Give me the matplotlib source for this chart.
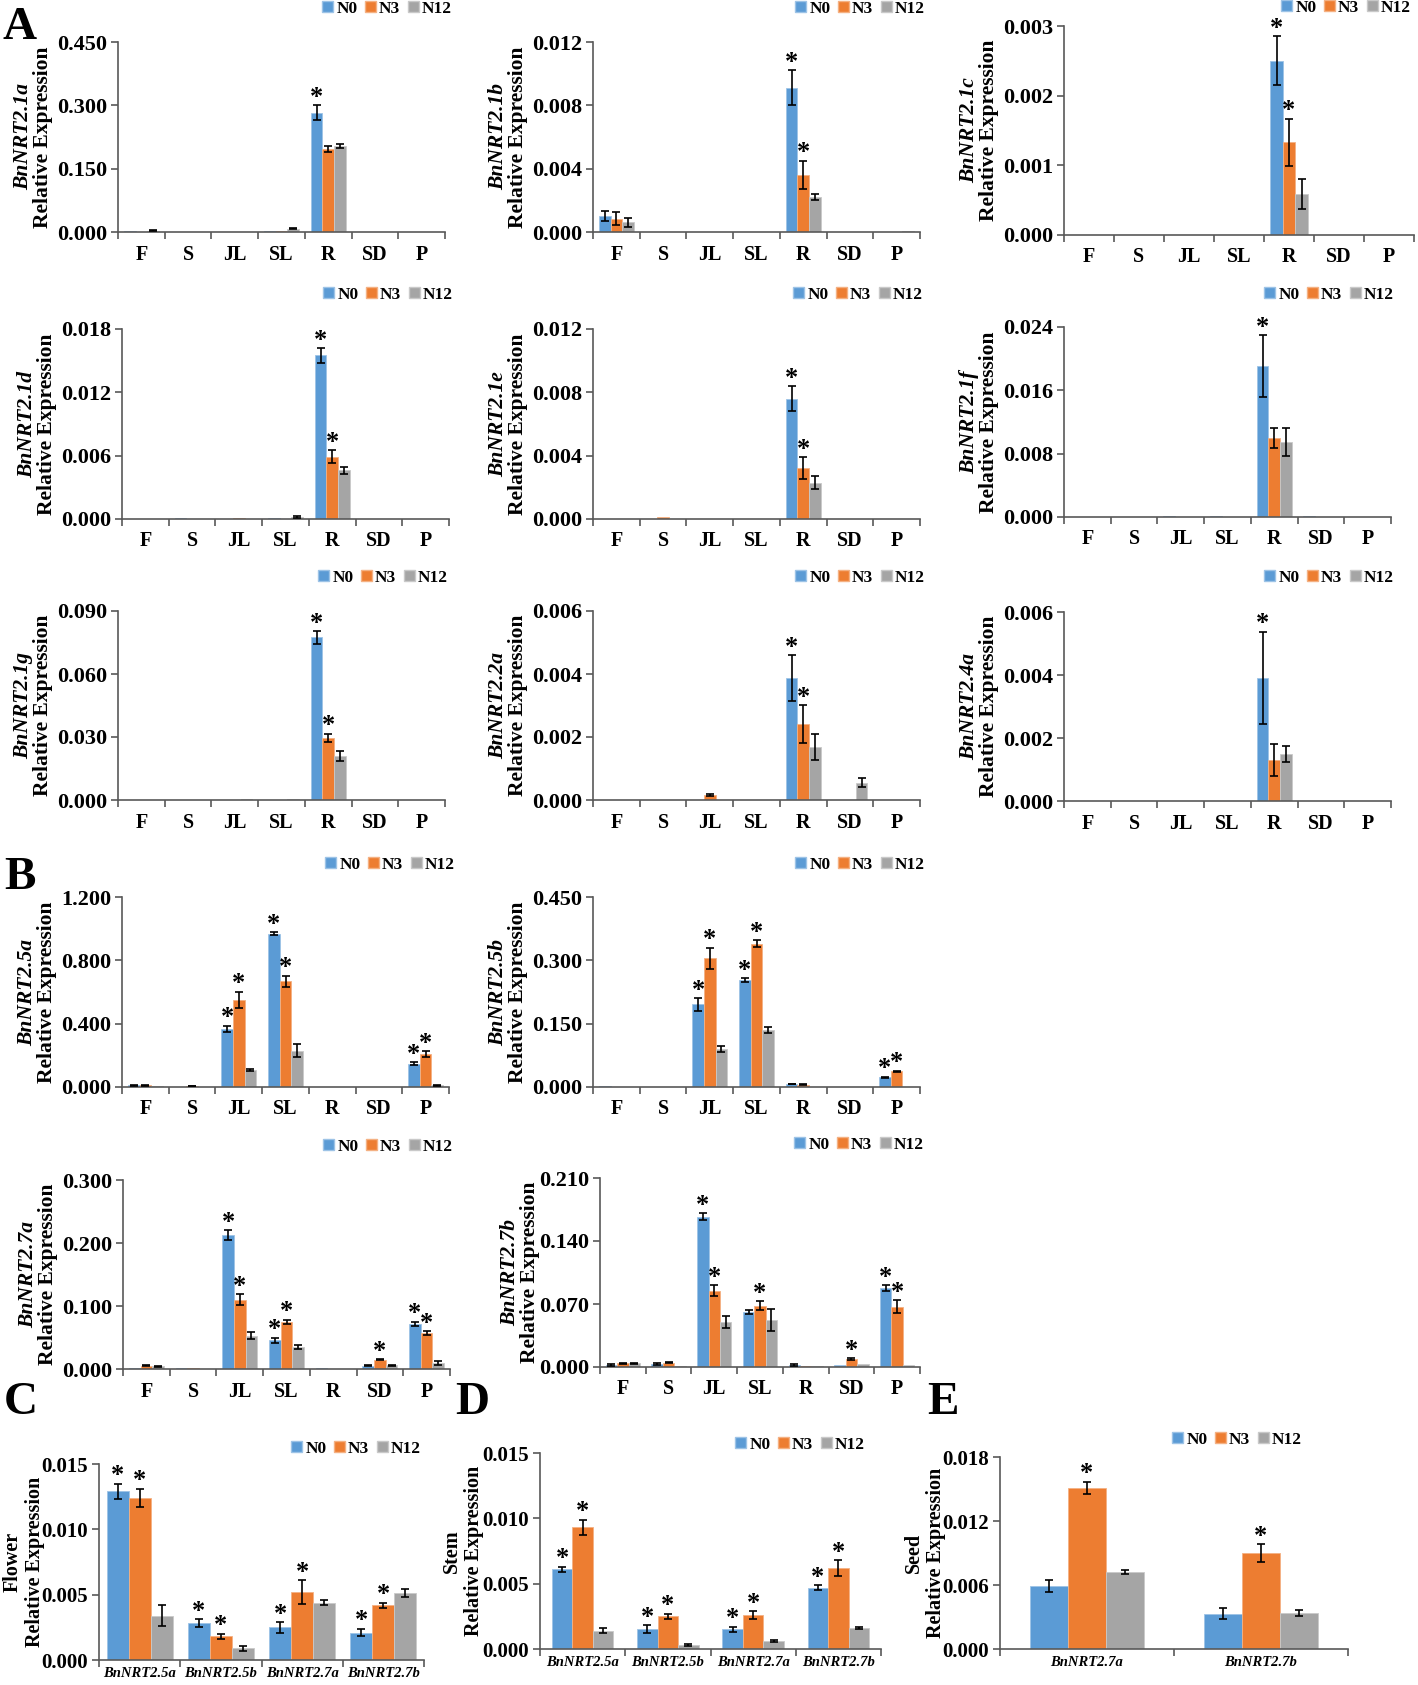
import matplotlib.pyplot as plt
from matplotlib.patches import Patch
import numpy as np

plt.rcParams['font.family'] = ['Liberation Serif', 'DejaVu Serif']
plt.rcParams['font.weight'] = 'bold'

W, H = 1418, 1685
fig = plt.figure(figsize=(W / 100, H / 100), dpi=100)

tissues = ['F', 'S', 'JL', 'SL', 'R', 'SD', 'P']
groups = ['N0', 'N3', 'N12']
colors = ['#5B9BD5', '#ED7D31', '#A5A5A5']
edges = ['#9DC3E6', '#F4B183', '#C9C9C9']

# --- data (rows: N0, N3, N12; columns: tissues) ---
nrt21a_mean = [[0.002, 0.001, 0.000, 0.002, 0.283, 0, 0],
               [0.001, 0.001, 0.001, 0.002, 0.197, 0, 0],
               [0.003, 0.001, 0.001, 0.008, 0.204, 0, 0]]
nrt21a_err = [[0, 0, 0, 0, 0.017, 0, 0],
              [0, 0, 0, 0, 0.007, 0, 0],
              [0.001, 0, 0, 0.002, 0.005, 0, 0]]
nrt21a_star = [(4, 0)]

nrt21b_mean = [[0.0010, 0, 0, 0, 0.0091, 0, 0],
               [0.00085, 0, 0, 0, 0.0036, 0, 0],
               [0.0006, 0, 0, 0, 0.0022, 0, 0.00005]]
nrt21b_err = [[0.0003, 0, 0, 0, 0.0011, 0, 0],
              [0.0004, 0, 0, 0, 0.0009, 0, 0],
              [0.0003, 0, 0, 0, 0.0002, 0, 0]]
nrt21b_star = [(4, 0), (4, 1)]

nrt21c_mean = [[0, 0, 0, 0, 0.0025, 0, 0],
               [0, 0, 0, 0, 0.00133, 0, 0],
               [0, 0, 0, 0, 0.00059, 0, 0]]
nrt21c_err = [[0, 0, 0, 0, 0.00035, 0, 0],
              [0, 0, 0, 0, 0.00034, 0, 0],
              [0, 0, 0, 0, 0.00021, 0, 0]]
nrt21c_star = [(4, 0), (4, 1)]

nrt21d_mean = [[0, 0.0001, 0, 0.00005, 0.0155, 0, 0],
               [0, 0, 0.0001, 0, 0.0059, 0, 0],
               [0, 0, 0, 0.0002, 0.0046, 0, 0]]
nrt21d_err = [[0, 0, 0, 0, 0.0007, 0, 0],
              [0, 0, 0, 0, 0.0006, 0, 0],
              [0, 0, 0, 0.0001, 0.0003, 0, 0]]
nrt21d_star = [(4, 0), (4, 1)]

nrt21e_mean = [[0, 0, 0, 0, 0.0076, 0, 0],
               [0, 0.0001, 0, 0, 0.0032, 0, 0],
               [0, 0, 0, 0, 0.0023, 0, 0]]
nrt21e_err = [[0, 0, 0, 0, 0.0008, 0, 0],
              [0, 0, 0, 0, 0.0007, 0, 0],
              [0, 0, 0, 0, 0.0004, 0, 0]]
nrt21e_star = [(4, 0), (4, 1)]

nrt21f_mean = [[0, 0, 0.0001, 0.0001, 0.0191, 0.0001, 0],
               [0, 0, 0, 0, 0.0100, 0, 0],
               [0, 0, 0, 0, 0.0095, 0, 0]]
nrt21f_err = [[0, 0, 0, 0, 0.0039, 0, 0],
              [0, 0, 0, 0, 0.0013, 0, 0],
              [0, 0, 0, 0, 0.0018, 0, 0]]
nrt21f_star = [(4, 0)]

nrt21g_mean = [[0, 0, 0, 0, 0.0775, 0, 0],
               [0, 0, 0, 0, 0.0295, 0, 0],
               [0, 0, 0.0003, 0.0003, 0.021, 0, 0]]
nrt21g_err = [[0, 0, 0, 0, 0.003, 0, 0],
              [0, 0, 0, 0, 0.002, 0, 0],
              [0, 0, 0, 0, 0.0022, 0, 0]]
nrt21g_star = [(4, 0), (4, 1)]

nrt22a_mean = [[0, 0, 0, 0, 0.00387, 0, 0],
               [0, 0, 0.00015, 0, 0.0024, 0, 0],
               [0, 0, 0, 0, 0.00168, 0.00055, 0]]
nrt22a_err = [[0, 0, 0, 0, 0.00072, 0, 0],
              [0, 0, 0.00003, 0, 0.0006, 0, 0],
              [0, 0, 0, 0, 0.0004, 0.00015, 0]]
nrt22a_star = [(4, 0), (4, 1)]

nrt24a_mean = [[0, 0, 0, 0, 0.0039, 0, 0],
               [0, 0, 0, 0, 0.0013, 0, 0],
               [0, 0, 0, 0, 0.0015, 0, 0]]
nrt24a_err = [[0, 0, 0, 0, 0.00147, 0, 0],
              [0, 0, 0, 0, 0.0005, 0, 0],
              [0, 0, 0, 0, 0.00025, 0, 0]]
nrt24a_star = [(4, 0)]

nrt25a_mean = [[0.010, 0.003, 0.366, 0.968, 0.003, 0, 0.147],
               [0.010, 0.006, 0.552, 0.667, 0, 0, 0.210],
               [0.004, 0, 0.107, 0.229, 0, 0, 0.012]]
nrt25a_err = [[0.003, 0, 0.020, 0.010, 0, 0, 0.010],
              [0.003, 0.002, 0.050, 0.035, 0, 0, 0.018],
              [0, 0, 0.007, 0.040, 0, 0, 0.003]]
nrt25a_star = [(2, 0), (2, 1), (3, 0), (3, 1), (6, 0), (6, 1)]

nrt25b_mean = [[0.002, 0.001, 0.196, 0.253, 0.007, 0, 0.023],
               [0.001, 0.001, 0.305, 0.339, 0.005, 0, 0.037],
               [0, 0, 0.090, 0.135, 0.001, 0, 0.001]]
nrt25b_err = [[0, 0, 0.015, 0.005, 0.001, 0, 0.001],
              [0, 0, 0.025, 0.008, 0.001, 0, 0.002],
              [0, 0, 0.007, 0.007, 0, 0, 0]]
nrt25b_star = [(2, 0), (2, 1), (3, 0), (3, 1), (6, 0), (6, 1)]

nrt27a_mean = [[0.002, 0.001, 0.212, 0.046, 0.001, 0.005, 0.072],
               [0.005, 0.002, 0.110, 0.075, 0, 0.015, 0.057],
               [0.004, 0, 0.053, 0.035, 0, 0.006, 0.010]]
nrt27a_err = [[0, 0, 0.008, 0.004, 0, 0.001, 0.003],
              [0.001, 0, 0.009, 0.003, 0, 0.001, 0.003],
              [0.001, 0, 0.005, 0.003, 0, 0.001, 0.003]]
nrt27a_star = [(2, 0), (2, 1), (3, 0), (3, 1), (5, 1), (6, 0), (6, 1)]

nrt27b_mean = [[0.002, 0.003, 0.167, 0.061, 0.002, 0.002, 0.088],
               [0.004, 0.005, 0.085, 0.068, 0.001, 0.009, 0.067],
               [0.004, 0.001, 0.050, 0.052, 0.001, 0.003, 0.002]]
nrt27b_err = [[0.001, 0.001, 0.004, 0.002, 0.001, 0, 0.003],
              [0.001, 0.001, 0.006, 0.005, 0, 0.001, 0.007],
              [0.001, 0, 0.007, 0.012, 0, 0, 0]]
nrt27b_star = [(2, 0), (2, 1), (3, 1), (5, 1), (6, 0), (6, 1)]

genes4 = ['BnNRT2.5a', 'BnNRT2.5b', 'BnNRT2.7a', 'BnNRT2.7b']
genes2 = ['BnNRT2.7a', 'BnNRT2.7b']

flower_mean = [[0.0129, 0.0028, 0.0025, 0.0021],
               [0.0124, 0.0018, 0.0052, 0.0042],
               [0.0034, 0.0009, 0.0044, 0.0051]]
flower_err = [[0.0006, 0.0003, 0.0004, 0.0003],
              [0.0007, 0.0002, 0.0009, 0.0002],
              [0.0008, 0.0002, 0.0002, 0.0003]]
flower_star = [(0, 0), (0, 1), (1, 0), (1, 1), (2, 0), (2, 1), (3, 0), (3, 1)]

stem_mean = [[0.0061, 0.0015, 0.0015, 0.0047],
             [0.0093, 0.0025, 0.0026, 0.0062],
             [0.0014, 0.0003, 0.0006, 0.0016]]
stem_err = [[0.0002, 0.0003, 0.0002, 0.0002],
            [0.0006, 0.0002, 0.0003, 0.0006],
            [0.0002, 0.0001, 0.0001, 0.0001]]
stem_star = [(0, 0), (0, 1), (1, 0), (1, 1), (2, 0), (2, 1), (3, 0), (3, 1)]

seed_mean = [[0.0059, 0.0033],
             [0.0151, 0.0090],
             [0.0072, 0.0034]]
seed_err = [[0.0006, 0.0005],
            [0.0006, 0.0008],
            [0.0002, 0.0003]]
seed_star = [(0, 1), (1, 1)]


def draw_panel(rect, cats, mean, err, stars, ymax, step, name, leg_xy,
               width=0.25, lab_off=(-95, -75), name_italic=True, lab_fs=15.5,
               tick_fs=16, cat_fs=14.5, cat_italic=False, cat_pad=9):
    x0, y0, x1, y1 = rect
    ax = fig.add_axes([x0 / W, 1 - y1 / H, (x1 - x0) / W, (y1 - y0) / H])
    n = len(cats)
    x = np.arange(n)
    for gi in range(3):
        xs = x + (gi - 1) * width
        ax.bar(xs, mean[gi], width, color=colors[gi], edgecolor=edges[gi],
               linewidth=0.6, label=groups[gi], zorder=2)
        e = np.array(err[gi])
        m = e > 0
        if m.any():
            ax.errorbar(xs[m], np.array(mean[gi])[m], yerr=e[m], fmt='none',
                        ecolor='black', elinewidth=1.2, capsize=2.6,
                        capthick=1.2, zorder=3)
    for ci, gi in stars:
        top = mean[gi][ci] + err[gi][ci]
        ax.annotate('*', (ci + (gi - 1) * width, top), xytext=(0, 1),
                    textcoords='offset points', ha='center', va='baseline',
                    fontsize=19, fontweight='bold')
    ax.set_xlim(-0.5, n - 0.5)
    ax.set_ylim(0, ymax)
    yt = np.arange(0, ymax + step / 2, step)
    ax.set_yticks(yt)
    ax.set_yticklabels([f'{v:.3f}' for v in yt], fontsize=tick_fs,
                       fontweight='bold')
    ax.set_xticks(x)
    ax.set_xticklabels(cats, fontsize=cat_fs, fontweight='bold',
                       fontstyle='italic' if cat_italic else 'normal')
    ax.set_xticks(np.arange(-0.5, n, 1), minor=True)
    ax.tick_params(axis='x', which='major', length=0, pad=cat_pad)
    ax.tick_params(axis='x', which='minor', length=5, width=1.2,
                   color='#595959', direction='out')
    ax.tick_params(axis='y', length=5, width=1.2, color='#595959',
                   direction='out', pad=3)
    for s in ['top', 'right']:
        ax.spines[s].set_visible(False)
    for s in ['left', 'bottom']:
        ax.spines[s].set_color('#595959')
        ax.spines[s].set_linewidth(1.2)
    ax.patch.set_visible(False)

    yc = 1 - (y0 + y1) / 2 / H
    fig.text((x0 + lab_off[0]) / W, yc, name, rotation=90, ha='center',
             va='center', fontsize=lab_fs, fontweight='bold',
             fontstyle='italic' if name_italic else 'normal')
    fig.text((x0 + lab_off[1]) / W, yc, 'Relative Expression', rotation=90,
             ha='center', va='center', fontsize=lab_fs, fontweight='bold')

    handles = [Patch(facecolor=colors[i], edgecolor=edges[i]) for i in range(3)]
    ax.legend(handles, groups, loc='center right', ncol=3, frameon=False,
              bbox_to_anchor=(leg_xy[0] / W, 1 - leg_xy[1] / H),
              bbox_transform=fig.transFigure, borderpad=0, borderaxespad=0,
              handlelength=0.6, handleheight=0.6, handletextpad=0.2,
              columnspacing=0.45, prop={'size': 12.5, 'weight': 'bold'})
    return ax


# panel A
draw_panel((118, 42, 445, 232), tissues, nrt21a_mean, nrt21a_err, nrt21a_star,
           0.45, 0.15, 'BnNRT2.1a', (452, 9))
draw_panel((593, 42, 920, 232), tissues, nrt21b_mean, nrt21b_err, nrt21b_star,
           0.012, 0.004, 'BnNRT2.1b', (925, 9))
draw_panel((1064, 26, 1414, 235), tissues, nrt21c_mean, nrt21c_err, nrt21c_star,
           0.003, 0.001, 'BnNRT2.1c', (1411, 8))
draw_panel((122, 329, 449, 519), tissues, nrt21d_mean, nrt21d_err, nrt21d_star,
           0.018, 0.006, 'BnNRT2.1d', (453, 295))
draw_panel((593, 329, 920, 519), tissues, nrt21e_mean, nrt21e_err, nrt21e_star,
           0.012, 0.004, 'BnNRT2.1e', (923, 295))
draw_panel((1064, 327, 1391, 517), tissues, nrt21f_mean, nrt21f_err, nrt21f_star,
           0.024, 0.008, 'BnNRT2.1f', (1394, 295))
draw_panel((118, 611, 445, 800), tissues, nrt21g_mean, nrt21g_err, nrt21g_star,
           0.09, 0.03, 'BnNRT2.1g', (448, 578))
draw_panel((593, 611, 920, 800), tissues, nrt22a_mean, nrt22a_err, nrt22a_star,
           0.006, 0.002, 'BnNRT2.2a', (925, 578))
draw_panel((1064, 612, 1391, 801), tissues, nrt24a_mean, nrt24a_err, nrt24a_star,
           0.006, 0.002, 'BnNRT2.4a', (1394, 578))

# panel B
draw_panel((122, 897, 449, 1087), tissues, nrt25a_mean, nrt25a_err, nrt25a_star,
           1.2, 0.4, 'BnNRT2.5a', (455, 865))
draw_panel((593, 897, 920, 1087), tissues, nrt25b_mean, nrt25b_err, nrt25b_star,
           0.45, 0.15, 'BnNRT2.5b', (925, 865))
draw_panel((123, 1180, 450, 1369), tissues, nrt27a_mean, nrt27a_err, nrt27a_star,
           0.3, 0.1, 'BnNRT2.7a', (453, 1147))
draw_panel((600, 1178, 920, 1367), tissues, nrt27b_mean, nrt27b_err, nrt27b_star,
           0.21, 0.07, 'BnNRT2.7b', (924, 1145), lab_off=(-90, -70))

# panels C, D, E
cde = dict(name_italic=False, lab_fs=14.5, tick_fs=15, cat_fs=10.5,
           cat_italic=True, cat_pad=5)
draw_panel((99, 1464, 424, 1660), genes4, flower_mean, flower_err, flower_star,
           0.015, 0.005, 'Flower', (421, 1449), width=0.27, lab_off=(-86, -64),
           **cde)
draw_panel((540, 1453, 881, 1649), genes4, stem_mean, stem_err, stem_star,
           0.015, 0.005, 'Stem', (865, 1445), width=0.24, lab_off=(-88, -66),
           **cde)
draw_panel((1000, 1457, 1348, 1649), genes2, seed_mean, seed_err, seed_star,
           0.018, 0.006, 'Seed', (1302, 1440), width=0.22, lab_off=(-86, -64),
           **cde)

# panel letters
for letter, (lx, ly) in {'A': (20, 28), 'B': (20, 878), 'C': (21, 1403),
                         'D': (472, 1403), 'E': (943, 1403)}.items():
    fig.text(lx / W, 1 - ly / H, letter, fontsize=34, fontweight='bold',
             ha='center', va='center')

fig.savefig('out.png', dpi=100, facecolor='white')
